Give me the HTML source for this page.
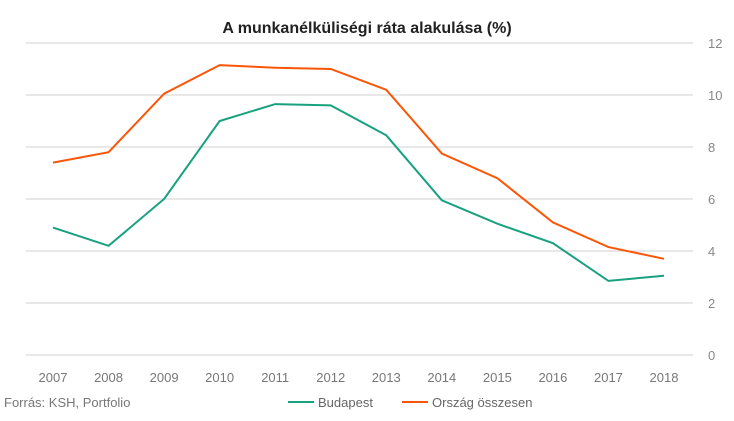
<!DOCTYPE html>
<html><head><meta charset="utf-8"><style>
body{margin:0;background:#fff;font-family:"Liberation Sans",sans-serif}
svg text{font-family:"Liberation Sans",sans-serif}
</style></head><body>
<svg width="734" height="416">
<text x="367" y="33" text-anchor="middle" font-size="16" font-weight="bold" fill="#222">A munkanélküliségi ráta alakulása (%)</text>
<g id="grid"></g><g id="xt"></g><g id="lines"></g>
<text x="4" y="407" font-size="13" fill="#777">Forrás: KSH, Portfolio</text>
<g>
<line x1="288" y1="402" x2="314" y2="402" stroke="#17a17e" stroke-width="2"/>
<text x="318" y="407" font-size="13" fill="#666">Budapest</text>
<line x1="402" y1="402" x2="428" y2="402" stroke="#fb5607" stroke-width="2"/>
<text x="432" y="407" font-size="13" fill="#666">Ország összesen</text>
</g>
</svg>
<script>
const years=["2007","2008","2009","2010","2011","2012","2013","2014","2015","2016","2017","2018"];
const budapest=[4.9,4.2,6.0,9.0,9.65,9.6,8.45,5.95,5.05,4.3,2.85,3.05];
const orszag=[7.4,7.8,10.05,11.15,11.05,11.0,10.2,7.75,6.8,5.1,4.15,3.7];
const yTicks=[0,2,4,6,8,10,12];
const NS="http://www.w3.org/2000/svg";
const x=i=>53+i*(664-53)/(years.length-1);
const y=v=>355-v*26;
function mk(t,a,p){const e=document.createElementNS(NS,t);for(const k in a)e.setAttribute(k,a[k]);p.appendChild(e);return e;}
const g=document.getElementById('grid');
yTicks.forEach(v=>{
 const l=mk('line',{x1:26,x2:693,y1:y(v),y2:y(v),stroke:'#d0d0d0','stroke-width':1},g);
 
 
 const t=mk('text',{x:708,y:y(v)+5,'font-size':13,fill:'#888'},g);t.textContent=v;
 
 
});
const xt=document.getElementById('xt');
years.forEach((yr,i)=>{
 const t=mk('text',{x:x(i),y:382,'font-size':13,fill:'#777','text-anchor':'middle'},xt);t.textContent=yr;
 
 
});
const L=document.getElementById('lines');
[[orszag,'#fb5607','line-orszag'],[budapest,'#17a17e','line-budapest']].forEach(([d,c,n])=>{
 const p=mk('polyline',{points:d.map((v,i)=>x(i)+','+y(v)).join(' '),fill:'none',stroke:c,'stroke-width':2},L);
 
 
});
</script>
</body></html>
